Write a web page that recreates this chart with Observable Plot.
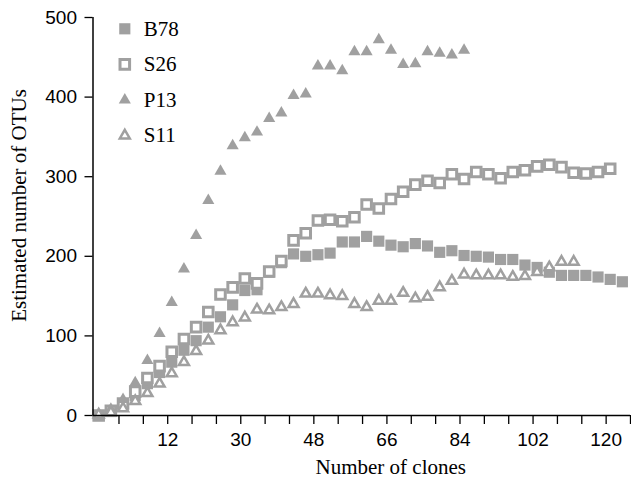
<!DOCTYPE html>
<html>
<head>
<meta charset="utf-8">
<script src="https://cdn.jsdelivr.net/npm/d3@7"></script>
<script src="https://cdn.jsdelivr.net/npm/@observablehq/plot@0.6"></script>
<style>
  html, body { margin: 0; padding: 0; background: #fff; }
  svg { display: block; }
</style>
</head>
<body>
<div id="chart"></div>
<script>
// Number of clones (as read against the labelled axis)
const clones = [-5,-2,1,4,7,10,13,16,19,22,25,28,31,34,37,40,43,46,49,52,55,58,61,64,67,70,73,76,79,82,85,88,91,94,97,100,103,106,109,112,115,118,121,124];

const B78 = [0,5,13,25,40,54,67,82,94,111,124,139,157,158,180,192,203,200,202,204,218,218,225,219,214,212,216,213,205,207,201,200,199,196,196,189,186,180,176,176,176,174,171,168];
const S26 = [0,6,15,30,47,62,80,96,111,130,152,161,172,166,181,194,220,229,245,246,244,249,265,260,272,281,290,295,292,303,297,306,303,298,306,308,313,315,312,305,304,306,310];
const P13 = [0,8,20,41,69,103,142,184,226,270,307,339,349,356,373,380,402,404,439,439,433,457,457,472,459,441,442,457,455,453,459];
const S11 = [1,4,9,18,28,40,53,67,81,94,107,117,123,133,132,136,140,153,153,151,150,140,136,144,144,154,147,149,161,169,177,176,176,176,174,175,180,186,193,193];

const seriesNames = ["B78", "S26", "P13", "S11"];
const yTicks = [0, 100, 200, 300, 400, 500];
const xTickLabels = [12, 30, 48, 66, 84, 102, 120];
const xLabel = "Number of clones";
const yLabel = "Estimated number of OTUs";

const gray = "#a0a0a0";
const styles = {
  B78: {symbol: "square", r: 6.3, fill: gray, stroke: "none"},
  S26: {symbol: "square", r: 5.4, fill: "white", stroke: gray, strokeWidth: 3},
  P13: {symbol: "triangle", r: 4.5, fill: gray, stroke: "none"},
  S11: {symbol: "triangle", r: 3.7, fill: "white", stroke: gray, strokeWidth: 2.5}
};
const values = {B78, S26, P13, S11};

const serif = "'Liberation Serif', 'Times New Roman', Times, serif";
const sans = "'Liberation Sans', Arial, Helvetica, sans-serif";

const xTicks = d3.range(0, 127, 6);

const marks = [];
// data
for (const name of seriesNames) {
  const rows = values[name].map((v, i) => ({clones: clones[i], v}));
  marks.push(Plot.dot(rows, {x: "clones", y: "v", ...styles[name]}));
}
// legend
seriesNames.forEach((name, k) => {
  marks.push(Plot.dot([name], {frameAnchor: "top-left", dx: 31.8, dy: 11.3 + 35.6 * k, ...styles[name]}));
  marks.push(Plot.text([name], {frameAnchor: "top-left", dx: 50.8, dy: 11.3 + 35.6 * k, text: d => d,
    textAnchor: "start", lineAnchor: "middle", fontFamily: serif, fontSize: 21, fill: "#000"}));
});
// axes
marks.push(Plot.axisY({ticks: yTicks, tickSize: 8, tickPadding: 8, label: null, fontSize: 19, fontFamily: sans, strokeWidth: 1.3}));
marks.push(Plot.axisX({ticks: xTicks, tickSize: 9, tickPadding: 8, label: null, fontSize: 19, fontFamily: sans, strokeWidth: 1.3,
  tickFormat: d => xTickLabels.includes(d) ? String(d) : ""}));
marks.push(Plot.ruleY([0], {stroke: "#000", strokeWidth: 1.5}));
marks.push(Plot.ruleX([-6.4], {stroke: "#000", strokeWidth: 1.5}));
// axis titles
marks.push(Plot.text([xLabel], {frameAnchor: "bottom", dx: 29, dy: 52, text: d => d, textAnchor: "middle", lineAnchor: "middle",
  fontFamily: serif, fontSize: 21, fill: "#000"}));
marks.push(Plot.text([yLabel], {frameAnchor: "left", dx: -73.5, dy: -11, rotate: -90, text: d => d, textAnchor: "middle", lineAnchor: "middle",
  fontFamily: serif, fontSize: 21, fill: "#000"}));

const chart = Plot.plot({
  width: 631,
  height: 479,
  marginLeft: 92.5,
  marginRight: 1,
  marginTop: 17,
  marginBottom: 64,
  x: {domain: [-6.4, 126]},
  y: {domain: [0, 500]},
  style: {fontFamily: sans, fontSize: "19px", color: "#000", background: "#fff"},
  marks
});
document.getElementById("chart").appendChild(chart);
</script>
</body>
</html>
